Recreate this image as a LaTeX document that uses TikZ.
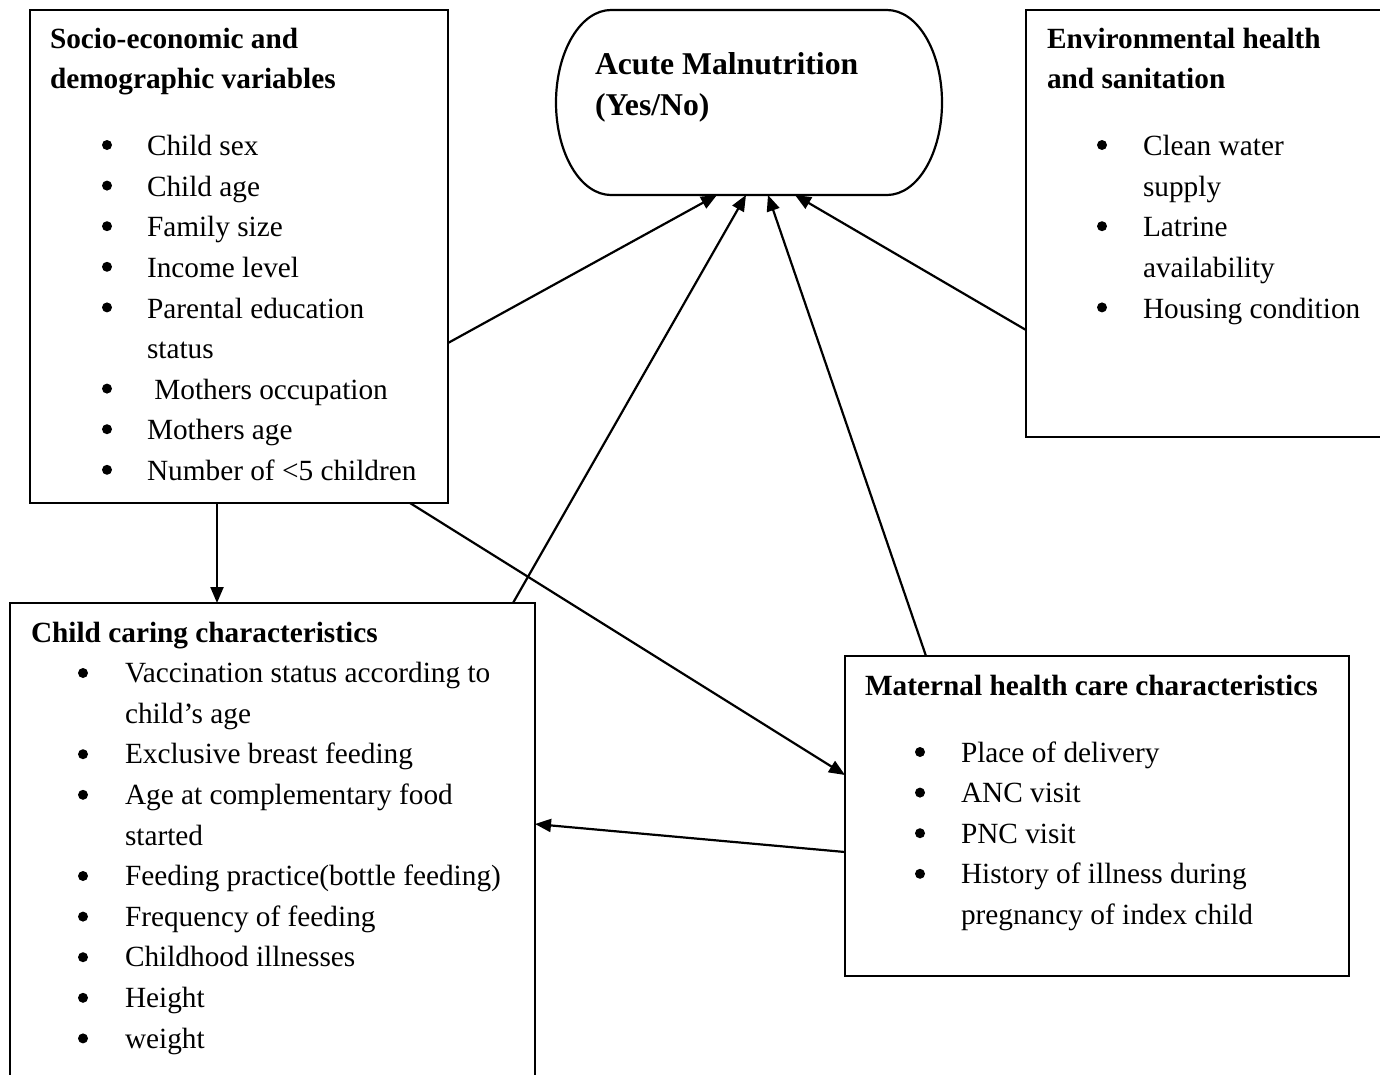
\documentclass[tikz,border=0pt]{standalone}
\usepackage{fontspec}
\setmainfont{Liberation Serif}
\usetikzlibrary{arrows.meta}
\newlength\bulA
\newlength\bulB
\newcommand\bul[1]{\hspace*{\dimexpr\bulA+\bulB\relax}#1\par}
\newcommand\cont[1]{\hspace*{\dimexpr\bulA+\bulB\relax}#1\par}
\newcommand\bodyfont{\fontsize{29.3}{40.6}\selectfont\parskip=0pt\parindent=0pt}
\begin{document}
\begin{tikzpicture}[x=1pt,y=-1pt,
  box/.style={draw, line width=2.2pt, rectangle, inner sep=0pt, outer sep=0pt, anchor=north west},
  txt/.style={anchor=base west, inner sep=0pt, outer sep=0pt},
  dot/.style={fill=black},
  arr/.style={line width=2.2pt, -{Triangle[length=16pt,width=13pt]}}]
\useasboundingbox (0,0) rectangle (1380,1074);
\clip (0,0) rectangle (1380,1074);
% boxes
\node[box, minimum width=418pt, minimum height=493pt] (se) at (30,10) {};
\node[box, minimum width=374pt, minimum height=427pt] (env) at (1026,10) {};
\node[box, minimum width=525pt, minimum height=500pt] (cc) at (10,603) {};
\node[box, minimum width=504pt, minimum height=320pt] (mh) at (845,656) {};
\node[rectangle, inner sep=0pt, outer sep=0pt, minimum width=386pt, minimum height=185pt, anchor=north west] (am) at (556,10) {};
\draw[line width=2.2pt] ([xshift=55pt]am.north west) -- ([xshift=-55pt]am.north east)
  arc[start angle=90, end angle=-90, x radius=55pt, y radius=92.5pt]
  -- ([xshift=55pt]am.south west)
  arc[start angle=270, end angle=90, x radius=55pt, y radius=92.5pt] -- cycle;
% texts
\node[txt] (amtxt) at (595,74) {\parbox[t]{330pt}{\fontsize{31.7}{41}\selectfont\bfseries Acute Malnutrition\par (Yes/No)\par}};
\node[txt] (setxt) at (50,48) {\parbox[t]{395pt}{\bodyfont\setlength\bulA{57pt}\setlength\bulB{40pt}%
\textbf{Socio-economic and}\par\textbf{demographic variables}\par\vspace{26.4pt}%
\bul{Child sex}\bul{Child age}\bul{Family size}\bul{Income level}\bul{Parental education}\cont{status}%
\bul{\ Mothers occupation}\bul{Mothers age}\bul{Number of <5 children}}};
\node[txt] (envtxt) at (1047,48) {\parbox[t]{330pt}{\bodyfont\setlength\bulA{55pt}\setlength\bulB{41pt}%
\textbf{Environmental health}\par\textbf{and sanitation}\par\vspace{26.4pt}%
\bul{Clean water}\cont{supply}\bul{Latrine}\cont{availability}\bul{Housing condition}}};
\node[txt] (cctxt) at (31,642) {\parbox[t]{500pt}{\bodyfont\setlength\bulA{52pt}\setlength\bulB{42pt}%
\textbf{Child caring characteristics}\par
\bul{Vaccination status according to}\cont{child’s age}\bul{Exclusive breast feeding}%
\bul{Age at complementary food}\cont{started}\bul{Feeding practice(bottle feeding)}%
\bul{Frequency of feeding}\bul{Childhood illnesses}\bul{Height}\bul{weight}}};
\node[txt] (mhtxt) at (865,695) {\parbox[t]{480pt}{\bodyfont\setlength\bulA{55pt}\setlength\bulB{41pt}%
\textbf{Maternal health care characteristics}\par\vspace{26.4pt}%
\bul{Place of delivery}\bul{ANC visit}\bul{PNC visit}\bul{History of illness during}\cont{pregnancy of index child}}};
% bullets
\foreach \k in {0,1,2,3,4,6,7,8} \fill[dot] (107,145+40.6*\k) circle[radius=5pt];
\foreach \k in {0,2,4} \fill[dot] (1102,145+40.6*\k) circle[radius=5pt];
\foreach \k in {0,2,3,5,6,7,8,9} \fill[dot] (83,673+40.6*\k) circle[radius=5pt];
\foreach \k in {0,1,2,3} \fill[dot] (920,752+40.6*\k) circle[radius=5pt];
% connectors
\draw[arr] ([yshift=-333pt]se.north east) -- ([xshift=-32pt]am.south);
\draw[arr] ([xshift=503pt]cc.north west) -- ([xshift=-3pt]am.south);
\draw[arr] ([xshift=81pt]mh.north west) -- ([xshift=19pt]am.south);
\draw[arr] ([yshift=-320pt]env.north west) -- ([xshift=46pt]am.south);
\draw[arr] ([xshift=187pt]se.south west) -- ([xshift=207pt]cc.north west);
\draw[arr] ([xshift=380pt]se.south west) -- ([yshift=-119pt]mh.north west);
\draw[arr] ([yshift=-196pt]mh.north west) -- ([yshift=-221pt]cc.north east);
\end{tikzpicture}
\end{document}
